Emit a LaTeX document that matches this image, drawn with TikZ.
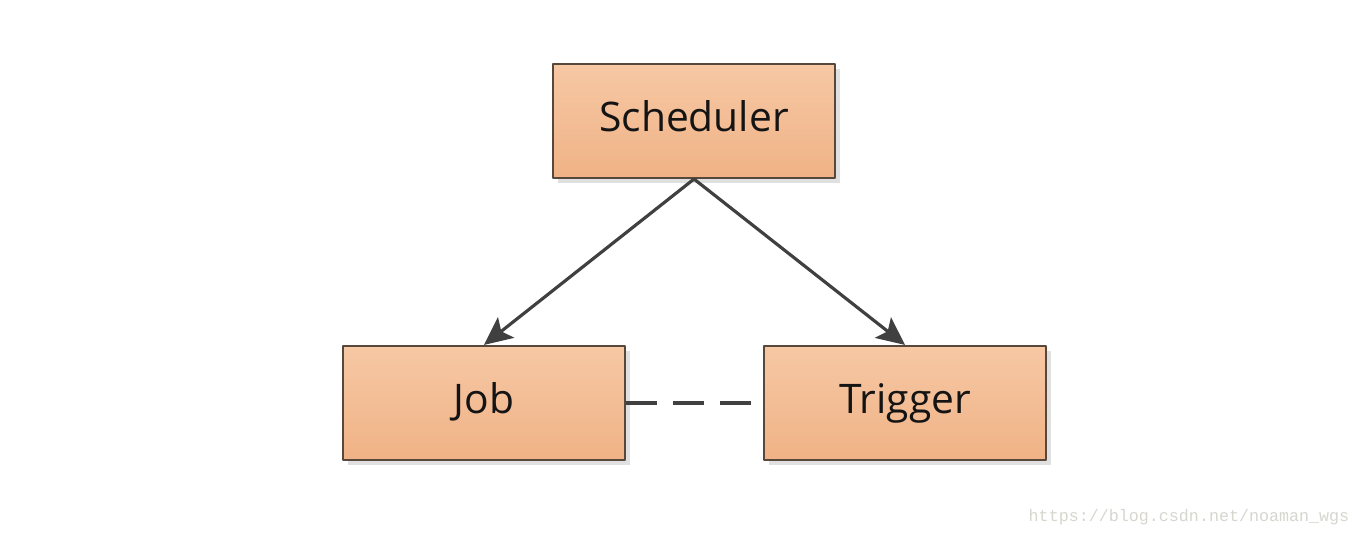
\documentclass[tikz,border=0pt]{standalone}
\usepackage{fontspec}
\setmainfont{Open Sans}
\newfontfamily\markfont{Liberation Mono}
\usetikzlibrary{arrows.meta,shadows}
\definecolor{boxtop}{RGB}{246,200,164}
\definecolor{boxbot}{RGB}{240,178,134}
\definecolor{boxline}{RGB}{88,72,60}
\definecolor{linkgray}{RGB}{64,64,64}
\definecolor{markgray}{RGB}{214,214,206}

\begin{document}
\begin{tikzpicture}[line join = round,
  box/.style={draw=boxline, line width=0.6pt, top color=boxtop, bottom color=boxbot,
    minimum width=2.82cm, minimum height=1.14cm, inner sep=0pt,
    text height=0.24cm, text depth=0.02cm,
    font=\fontsize{11.6}{14}\selectfont, text=black!92,
    drop shadow={shadow xshift=0.05cm, shadow yshift=-0.05cm, fill=black, opacity=0.12}},
  link/.style={draw=linkgray, line width=0.9pt, -{Stealth[length=0.28cm, width=0.26cm, inset=0.06cm]}}]
\useasboundingbox (0,0) rectangle (13.6,5.38);

\node[box] (sched) at (6.94,4.17) {Scheduler};
\node[box] (job) at (4.84,1.35) {Job};
\node[box] (trig) at (9.05,1.35) {Trigger};

\draw[link] (sched.south) -- (job.north);
\draw[link] (sched.south) -- (trig.north);
\draw[draw=linkgray, line width=0.9pt, dash pattern=on 0.31cm off 0.16cm] (job.east) -- (trig.west);

% watermark
\node[text=markgray, font=\markfont\fontsize{4.75}{6}\selectfont] (mark) at (11.89,0.21) {https://blog.csdn.net/noaman\_wgs};
\end{tikzpicture}
\end{document}
